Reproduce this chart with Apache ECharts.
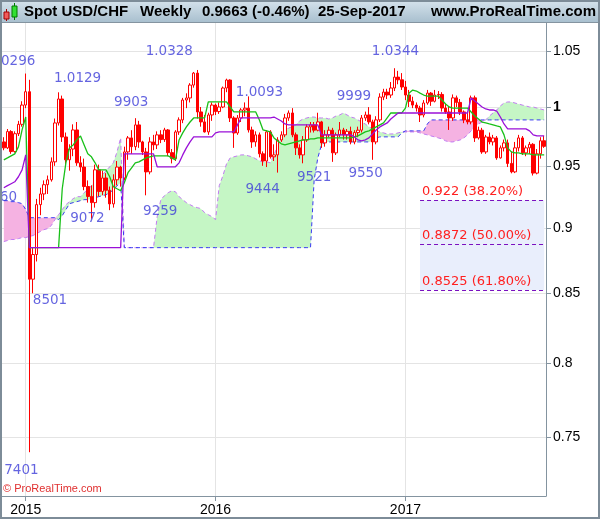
<!DOCTYPE html>
<html><head><meta charset="utf-8">
<script src="https://cdn.jsdelivr.net/npm/echarts@6/dist/echarts.min.js"></script>
<style>html,body{margin:0;padding:0;background:#fff}#c{width:600px;height:519px}</style>
</head><body><div id="c"></div>
<script>
// ---- data ----
const startWeek = '2014-11-24';
const weekCount = 149;
// weekly [open, high, low, close]
const ohlc = [
[0.9700,0.9740,0.9630,0.9650],[0.9650,0.9810,0.9640,0.9788],[0.9788,0.9800,0.9600,0.9619],[0.9619,0.9790,0.9610,0.9770],
[0.9770,0.9880,0.9750,0.9850],[0.9850,1.0050,0.9830,1.0017],[1.0017,1.0296,0.9990,1.0134],[1.0134,1.0240,0.7401,0.8606],
[0.8606,0.8850,0.8501,0.8793],[0.8793,0.9230,0.8740,0.9184],[0.9184,0.9320,0.9100,0.9270],[0.9270,0.9380,0.9220,0.9345],
[0.9345,0.9420,0.9270,0.9385],[0.9385,0.9570,0.9370,0.9533],[0.9533,0.9900,0.9500,0.9862],[0.9862,1.0129,0.9840,1.0070],
[1.0070,1.0100,0.9700,0.9742],[0.9742,0.9780,0.9510,0.9550],[0.9550,0.9680,0.9460,0.9640],[0.9640,0.9850,0.9580,0.9802],
[0.9802,0.9870,0.9500,0.9525],[0.9525,0.9580,0.9450,0.9490],[0.9490,0.9560,0.9300,0.9330],[0.9330,0.9380,0.9200,0.9250],
[0.9250,0.9340,0.9072,0.9200],[0.9200,0.9510,0.9160,0.9467],[0.9467,0.9510,0.9250,0.9290],[0.9290,0.9460,0.9260,0.9400],
[0.9400,0.9440,0.9240,0.9300],[0.9300,0.9330,0.9140,0.9190],[0.9190,0.9430,0.9160,0.9385],[0.9385,0.9540,0.9340,0.9490],
[0.9490,0.9500,0.9330,0.9400],[0.9400,0.9660,0.9380,0.9616],[0.9616,0.9750,0.9550,0.9734],[0.9734,0.9800,0.9600,0.9660],
[0.9660,0.9903,0.9630,0.9845],[0.9845,0.9880,0.9650,0.9700],[0.9700,0.9710,0.9590,0.9616],[0.9616,0.9650,0.9259,0.9450],
[0.9450,0.9740,0.9430,0.9700],[0.9700,0.9760,0.9630,0.9675],[0.9675,0.9790,0.9640,0.9760],[0.9760,0.9800,0.9690,0.9720],
[0.9720,0.9820,0.9700,0.9802],[0.9802,0.9810,0.9580,0.9610],[0.9610,0.9640,0.9520,0.9560],[0.9560,0.9800,0.9540,0.9785],
[0.9785,0.9910,0.9760,0.9888],[0.9888,1.0080,0.9860,1.0061],[1.0061,1.0120,0.9990,1.0079],[1.0079,1.0210,1.0040,1.0193],
[1.0193,1.0310,1.0170,1.0300],[1.0300,1.0328,0.9900,0.9957],[0.9957,1.0000,0.9830,0.9871],[0.9871,0.9930,0.9780,0.9785],
[0.9785,0.9950,0.9760,0.9931],[0.9931,1.0040,0.9880,1.0017],[1.0017,1.0030,0.9930,0.9960],[0.9960,1.0040,0.9940,1.0000],
[1.0000,1.0180,0.9990,1.0167],[1.0167,1.0250,1.0130,1.0238],[1.0238,1.0244,0.9870,0.9905],[0.9905,0.9920,0.9650,0.9776],
[0.9776,0.9930,0.9760,0.9905],[0.9905,0.9990,0.9870,0.9974],[0.9974,1.0040,0.9920,0.9990],[0.9990,1.0093,0.9780,0.9802],
[0.9802,0.9830,0.9650,0.9700],[0.9700,0.9790,0.9660,0.9760],[0.9760,0.9780,0.9570,0.9600],[0.9600,0.9620,0.9500,0.9540],
[0.9540,0.9800,0.9490,0.9785],[0.9785,0.9800,0.9560,0.9575],[0.9575,0.9680,0.9540,0.9591],[0.9591,0.9740,0.9444,0.9717],
[0.9717,0.9790,0.9700,0.9760],[0.9760,0.9940,0.9740,0.9905],[0.9905,0.9970,0.9880,0.9948],[0.9948,0.9990,0.9740,0.9760],
[0.9760,0.9780,0.9590,0.9650],[0.9650,0.9680,0.9560,0.9591],[0.9591,0.9750,0.9521,0.9717],[0.9717,0.9850,0.9700,0.9828],
[0.9828,0.9870,0.9780,0.9845],[0.9845,0.9870,0.9780,0.9800],[0.9800,0.9950,0.9790,0.9871],[0.9871,0.9880,0.9650,0.9692],
[0.9692,0.9800,0.9660,0.9760],[0.9760,0.9830,0.9740,0.9800],[0.9800,0.9820,0.9533,0.9608],[0.9608,0.9780,0.9590,0.9760],
[0.9760,0.9870,0.9740,0.9802],[0.9802,0.9820,0.9720,0.9760],[0.9760,0.9810,0.9720,0.9790],[0.9790,0.9830,0.9680,0.9700],
[0.9700,0.9800,0.9680,0.9780],[0.9780,0.9830,0.9740,0.9800],[0.9800,0.9930,0.9780,0.9905],[0.9905,0.9960,0.9880,0.9931],
[0.9931,0.9999,0.9850,0.9871],[0.9871,0.9890,0.9550,0.9700],[0.9700,0.9920,0.9680,0.9888],[0.9888,1.0120,0.9870,1.0087],
[1.0087,1.0160,1.0060,1.0131],[1.0131,1.0160,1.0070,1.0105],[1.0105,1.0220,1.0080,1.0167],[1.0167,1.0344,1.0140,1.0264],
[1.0264,1.0320,1.0200,1.0240],[1.0240,1.0300,1.0150,1.0176],[1.0176,1.0230,1.0060,1.0105],[1.0105,1.0150,1.0000,1.0050],
[1.0050,1.0090,0.9990,1.0017],[1.0017,1.0040,0.9960,0.9991],[0.9991,1.0010,0.9870,0.9931],[0.9931,1.0060,0.9910,1.0035],
[1.0035,1.0150,1.0020,1.0122],[1.0122,1.0131,1.0010,1.0050],[1.0050,1.0150,1.0040,1.0105],[1.0105,1.0140,1.0070,1.0110],
[1.0110,1.0130,0.9960,0.9991],[0.9991,1.0030,0.9940,0.9957],[0.9957,1.0000,0.9802,0.9905],[0.9905,1.0110,0.9880,1.0080],
[1.0080,1.0100,1.0000,1.0040],[1.0040,1.0070,0.9930,0.9957],[0.9957,0.9970,0.9860,0.9888],[0.9888,0.9960,0.9850,0.9871],
[0.9871,1.0100,0.9850,1.0080],[1.0080,1.0100,0.9700,0.9734],[0.9734,0.9830,0.9720,0.9800],[0.9800,0.9820,0.9600,0.9616],
[0.9616,0.9760,0.9600,0.9742],[0.9742,0.9780,0.9680,0.9700],[0.9700,0.9760,0.9670,0.9734],[0.9734,0.9750,0.9550,0.9566],
[0.9566,0.9670,0.9560,0.9650],[0.9650,0.9720,0.9620,0.9692],[0.9692,0.9720,0.9490,0.9520],[0.9520,0.9620,0.9438,0.9450],
[0.9450,0.9700,0.9440,0.9650],[0.9650,0.9760,0.9620,0.9734],[0.9734,0.9750,0.9590,0.9608],[0.9608,0.9670,0.9580,0.9650],
[0.9650,0.9700,0.9600,0.9680],[0.9680,0.9690,0.9420,0.9440],[0.9440,0.9640,0.9430,0.9600],[0.9600,0.9740,0.9560,0.9710],
[0.9710,0.9750,0.9650,0.9663]
];
// Ichimoku lines
const tenkan = [
0.9550,0.9566,0.9583,0.9600,0.9658,0.9802,0.9913,0.8846,0.8846,0.8846,
0.8846,0.8846,0.8846,0.8846,0.8846,0.8846,0.9312,0.9525,0.9650,0.9675,
0.9717,0.9751,0.9675,0.9600,0.9575,0.9525,0.9467,0.9467,0.9467,0.9410,
0.9329,0.9312,0.9296,0.9361,0.9443,0.9484,0.9525,0.9533,0.9550,0.9566,
0.9575,0.9583,0.9583,0.9583,0.9583,0.9583,0.9566,0.9550,0.9717,0.9777,
0.9828,0.9870,0.9905,0.9905,0.9905,0.9905,1.0044,1.0044,1.0044,1.0044,
1.0044,1.0044,1.0000,0.9957,0.9957,0.9957,0.9957,0.9957,0.9957,0.9957,
0.9888,0.9802,0.9794,0.9785,0.9734,0.9709,0.9684,0.9675,0.9684,0.9692,
0.9700,0.9709,0.9717,0.9717,0.9726,0.9726,0.9734,0.9734,0.9734,0.9734,
0.9734,0.9734,0.9734,0.9734,0.9734,0.9734,0.9743,0.9751,0.9768,0.9785,
0.9794,0.9811,0.9828,0.9845,0.9862,0.9905,0.9948,0.9948,0.9948,0.9948,
0.9991,1.0122,1.0149,1.0140,1.0122,1.0105,1.0096,1.0096,1.0096,1.0096,
1.0061,1.0026,1.0000,0.9991,0.9991,0.9991,0.9991,0.9991,0.9957,0.9922,
0.9896,0.9870,0.9862,0.9853,0.9845,0.9836,0.9828,0.9760,0.9650,0.9616,
0.9608,0.9608,0.9600,0.9600,0.9600,0.9591,0.9591,0.9591,0.9591
];
const kijun = [
0.9320,0.9337,0.9353,0.9369,0.9410,0.9467,0.9591,0.8846,0.8846,0.8846,
0.8846,0.8846,0.8846,0.8846,0.8846,0.8846,0.8846,0.8846,0.8846,0.8846,
0.8846,0.8846,0.8846,0.8846,0.8846,0.8846,0.8846,0.8846,0.8846,0.8846,
0.8846,0.8846,0.8846,0.9600,0.9600,0.9600,0.9600,0.9600,0.9600,0.9600,
0.9600,0.9600,0.9492,0.9492,0.9492,0.9492,0.9492,0.9492,0.9525,0.9591,
0.9650,0.9700,0.9743,0.9743,0.9743,0.9743,0.9743,0.9743,0.9777,0.9785,
0.9785,0.9785,0.9785,0.9785,0.9845,0.9905,0.9905,0.9905,0.9905,0.9905,
0.9905,0.9905,0.9905,0.9905,0.9913,0.9896,0.9879,0.9853,0.9845,0.9845,
0.9845,0.9845,0.9845,0.9845,0.9845,0.9845,0.9845,0.9760,0.9760,0.9760,
0.9760,0.9760,0.9760,0.9760,0.9760,0.9760,0.9743,0.9717,0.9709,0.9717,
0.9734,0.9768,0.9802,0.9828,0.9845,0.9862,0.9896,0.9922,0.9948,0.9948,
0.9948,0.9948,0.9948,0.9948,0.9948,0.9948,0.9948,0.9948,0.9948,0.9948,
0.9948,0.9948,0.9948,0.9948,0.9948,0.9948,0.9948,0.9948,1.0079,1.0052,
1.0026,1.0000,0.9983,0.9974,0.9974,0.9965,0.9913,0.9853,0.9811,0.9811,
0.9811,0.9811,0.9811,0.9811,0.9794,0.9760,0.9751,0.9751,0.9751
];
const spanA = [
0.8893,0.8901,0.8909,0.8909,0.8916,0.8924,0.8924,0.8932,0.8940,0.8955,
0.8971,0.8986,0.8994,0.9018,0.9065,0.9104,0.9144,0.9184,0.9208,0.9232,
0.9248,0.9248,0.9280,0.9304,0.9337,0.9369,0.9402,0.9426,0.9459,0.9492,
0.9525,0.9616,0.9734,0.8846,0.8846,0.8846,0.8846,0.8846,0.8846,0.8846,
0.8846,0.8846,0.9088,0.9224,0.9256,0.9280,0.9296,0.9288,0.9248,0.9224,
0.9200,0.9184,0.9168,0.9160,0.9152,0.9120,0.9104,0.9088,0.9065,0.9337,
0.9418,0.9517,0.9566,0.9575,0.9583,0.9591,0.9591,0.9583,0.9575,0.9558,
0.9542,0.9533,0.9533,0.9525,0.9591,0.9667,0.9734,0.9785,0.9819,0.9828,
0.9845,0.9879,0.9896,0.9905,0.9913,0.9913,0.9905,0.9905,0.9905,0.9896,
0.9905,0.9922,0.9931,0.9948,0.9931,0.9913,0.9905,0.9888,0.9870,0.9853,
0.9828,0.9811,0.9794,0.9785,0.9777,0.9768,0.9768,0.9768,0.9777,0.9785,
0.9785,0.9785,0.9785,0.9785,0.9777,0.9768,0.9760,0.9751,0.9743,0.9734,
0.9726,0.9709,0.9700,0.9700,0.9709,0.9717,0.9734,0.9760,0.9794,0.9828,
0.9853,0.9870,0.9888,0.9922,0.9948,0.9974,1.0009,1.0035,1.0044,1.0044,
1.0035,1.0026,1.0017,1.0009,1.0000,1.0000,0.9991,0.9983,0.9974
];
const spanB = [
0.9216,0.9216,0.9208,0.9208,0.9200,0.9192,0.9144,0.9080,0.9080,0.9080,
0.9080,0.9080,0.9080,0.9080,0.9080,0.9065,0.9096,0.9144,0.9192,0.9200,
0.9208,0.9216,0.9224,0.9224,0.9232,0.9240,0.9248,0.9256,0.9264,0.9280,
0.9304,0.9337,0.9361,0.8846,0.8846,0.8846,0.8846,0.8846,0.8846,0.8846,
0.8846,0.8846,0.8846,0.8846,0.8846,0.8846,0.8846,0.8846,0.8846,0.8846,
0.8846,0.8846,0.8846,0.8846,0.8846,0.8846,0.8846,0.8846,0.8846,0.8846,
0.8846,0.8846,0.8846,0.8846,0.8846,0.8846,0.8846,0.8846,0.8846,0.8846,
0.8846,0.8846,0.8846,0.8846,0.8846,0.8846,0.8846,0.8846,0.8846,0.8846,
0.8846,0.8846,0.8846,0.8846,0.8846,0.9385,0.9566,0.9675,0.9700,0.9700,
0.9700,0.9700,0.9700,0.9700,0.9700,0.9700,0.9700,0.9700,0.9700,0.9700,
0.9700,0.9709,0.9734,0.9743,0.9743,0.9743,0.9743,0.9743,0.9743,0.9777,
0.9794,0.9794,0.9794,0.9794,0.9794,0.9794,0.9853,0.9888,0.9888,0.9888,
0.9888,0.9888,0.9888,0.9888,0.9888,0.9888,0.9888,0.9888,0.9888,0.9888,
0.9888,0.9888,0.9888,0.9888,0.9888,0.9888,0.9888,0.9888,0.9888,0.9888,
0.9888,0.9888,0.9888,0.9888,0.9888,0.9888,0.9888,0.9888,0.9888
];
const yTicks = [0.75, 0.8, 0.85, 0.9, 0.95, 1, 1.05];
// swing high / low annotations: bar index, price, text as printed
const swingIdx   = [6, 15, 36, 53, 67, 100, 107, 0, 24, 39, 75, 82, 101, 8, 7];
const swingPrice = [1.0296, 1.0129, 0.9903, 1.0328, 1.0093, 0.9999, 1.0344, 0.9160, 0.9072, 0.9259, 0.9444, 0.9521, 0.9550, 0.8501, 0.7401];
const swingText  = ['1.0296','1.0129','9903','1.0328','1.0093','9999','1.0344','9160','9072','9259','9444','9521','9550','8501','7401'];
const fibLevels = [0.922, 0.8872, 0.8525];
const fibNames  = ['0.922 (38.20%)', '0.8872 (50.00%)', '0.8525 (61.80%)'];
const fibStartIdx = 114;
const header = {sym: 'Spot USD/CHF', tf: 'Weekly', last: '0.9663 (-0.46%)', date: '25-Sep-2017', site: 'www.ProRealTime.com'};

// ---- layout / style (kept separate from data) ----
const swingOffsets = [[-14,-12],[19,-14],[-4,-16],[-28,-18],[11,-4],[-15,-11],[1,-17],[-4,-10],[-4,0],[14,16],[-15,17],[11,14],[-7,14],[17,7],[-8,18]];

// ---- build ----
const dates = [];
const d0 = new Date(startWeek + 'T00:00:00Z');
for (let k = 0; k < weekCount; k++) dates.push(new Date(d0.getTime() + k * 7 * 86400000).toISOString().slice(0, 10));
const isYearStart = (idx) => idx > 0 && dates[idx].slice(0, 4) !== dates[idx - 1].slice(0, 4);
const L = Math.log;
const candleData = ohlc.map(r => [L(r[0]), L(r[3]), L(r[2]), L(r[1])]);
const lnA = spanA.map(L), lnB = spanB.map(L);
const cloudBase = lnA.map((a, k) => Math.min(a, lnB[k]));
const cloudGreen = lnA.map((a, k) => a > lnB[k] ? a - lnB[k] : 0);
const cloudPink = lnA.map((a, k) => lnB[k] > a ? lnB[k] - a : 0);

const yMax = (107 - 23) / 1147;
const yMin = yMax - 473 / 1147;
const AX = '#8494a0';

const chart = echarts.init(document.getElementById('c'), null, {renderer: 'canvas'});
const lineS = (name, data, color, z, dash, w) => ({
  name, type: 'line', data: data.map(L), showSymbol: false, symbol: 'none', z,
  lineStyle: {color, width: w || 1, type: dash ? [4, 3] : 'solid'}, emphasis: {disabled: true}, silent: true
});

chart.setOption({
  animation: false,
  backgroundColor: '#ffffff',
  grid: {left: 2, right: 54, top: 23, bottom: 23, containLabel: false},
  xAxis: {
    type: 'category', data: dates, boundaryGap: true,
    axisLine: {show: true, onZero: false, lineStyle: {color: AX}},
    axisTick: {show: true, interval: (i) => isYearStart(i), alignWithLabel: true, length: 5, lineStyle: {color: AX}},
    axisLabel: {interval: (i) => isYearStart(i), formatter: v => v.slice(0, 4), color: '#000', fontSize: 14, fontFamily: 'Liberation Sans', margin: 7},
    splitLine: {show: true, interval: (i) => isYearStart(i), alignWithLabel: true, lineStyle: {color: '#e4e4e4', width: 1}}
  },
  yAxis: {
    type: 'value', position: 'right', min: yMin, max: yMax,
    axisLine: {show: true, onZero: false, lineStyle: {color: AX}},
    axisTick: {show: true, length: 5, customValues: yTicks.map(L), lineStyle: {color: AX}},
    axisLabel: {
      customValues: yTicks.map(L), color: '#000', fontSize: 14, fontFamily: 'Liberation Sans', margin: 7,
      formatter: v => { const s = String(parseFloat(Math.exp(v).toFixed(2))); return s === '1' ? '{b|1}' : s; },
      rich: {b: {fontWeight: 'bold', fontSize: 14, fontFamily: 'Liberation Sans', color: '#000'}}
    },
    splitLine: {show: true, lineStyle: {color: '#e4e4e4', width: 1}}
  },
  series: [
    {
      name: 'cloudBase', type: 'line', data: cloudBase, stack: 'cloud', stackStrategy: 'all', showSymbol: false, symbol: 'none',
      lineStyle: {width: 0, opacity: 0}, z: 1, silent: true,
      markArea: {silent: true, itemStyle: {color: '#e9eefc'},
        data: [[{coord: [dates[fibStartIdx], L(fibLevels[0])]}, {coord: [dates[weekCount - 1], L(fibLevels[2])]}]]},
      markLine: {silent: true, symbol: ['none', 'none'],
        lineStyle: {color: '#7a10c0', type: [4, 3], width: 1},
        label: {show: true, position: 'insideStartTop', distance: 2, color: '#ff2020', fontSize: 13, fontFamily: 'DejaVu Sans', formatter: '{b}'},
        data: fibLevels.map((v, k) => [{name: fibNames[k], coord: [dates[fibStartIdx], L(v)]}, {coord: [dates[weekCount - 1], L(v)]}])}
    },
    {name: 'cloudGreen', type: 'line', data: cloudGreen, stack: 'cloud', stackStrategy: 'all', showSymbol: false, symbol: 'none',
      lineStyle: {width: 0, opacity: 0}, areaStyle: {color: '#c5f6c5', opacity: 1}, z: 1, silent: true},
    {name: 'cloudPink', type: 'line', data: cloudPink, stack: 'cloud', stackStrategy: 'all', showSymbol: false, symbol: 'none',
      lineStyle: {width: 0, opacity: 0}, areaStyle: {color: '#f5b2e2', opacity: 1}, z: 1, silent: true},
    lineS('spanA', spanA, '#c27cf2', 2, true, 1),
    lineS('spanB', spanB, '#3a3af2', 2, true, 1),
    {
      name: 'price', type: 'candlestick', data: candleData, barWidth: 3, z: 3, silent: true,
      itemStyle: {color: '#ffffff', color0: '#ff0000', borderColor: '#ff0000', borderColor0: '#ff0000', borderWidth: 1}
    },
    lineS('tenkan', tenkan, '#19c019', 4, false, 1.3),
    lineS('kijun', kijun, '#9a10d8', 5, false, 1.3),
    {
      name: 'swings', type: 'scatter', symbolSize: 0, z: 6, silent: true,
      data: swingIdx.map((idx, k) => ({
        value: [dates[idx], L(swingPrice[k])],
        label: {show: true, position: 'inside', offset: swingOffsets[k], formatter: swingText[k],
          color: '#3d3dd8', fontSize: 13.5, fontFamily: 'DejaVu Sans'}
      }))
    }
  ],
  graphic: [
    {type: 'rect', shape: {x: 0, y: 0, width: 600, height: 22}, z: 100, silent: true,
      style: {fill: new echarts.graphic.LinearGradient(0, 0, 0, 1, [{offset: 0, color: '#d6e3ec'}, {offset: 1, color: '#a9c0cf'}])}},
    {type: 'line', shape: {x1: 0, y1: 22.5, x2: 600, y2: 22.5}, z: 101, silent: true, style: {stroke: AX, lineWidth: 1}},
    {type: 'rect', shape: {x: 1, y: 1, width: 598, height: 517}, z: 102, silent: true, style: {fill: 'none', stroke: '#7d8c98', lineWidth: 2}},
    // candle icon
    {type: 'line', shape: {x1: 6.5, y1: 9, x2: 6.5, y2: 21}, z: 101, style: {stroke: '#a00000', lineWidth: 1}},
    {type: 'rect', shape: {x: 4, y: 12, width: 5, height: 7}, z: 102, style: {fill: '#f25a5a', stroke: '#a00000', lineWidth: 1}},
    {type: 'line', shape: {x1: 14.5, y1: 3, x2: 14.5, y2: 20}, z: 101, style: {stroke: '#007a00', lineWidth: 1}},
    {type: 'rect', shape: {x: 12, y: 6, width: 5, height: 11}, z: 102, style: {fill: '#33e033', stroke: '#007a00', lineWidth: 1}},
    {type: 'text', x: 24, y: 11.5, z: 103, style: {text: header.sym, font: 'bold 15px "Liberation Sans"', fill: '#000', verticalAlign: 'middle'}},
    {type: 'text', x: 140, y: 11.5, z: 103, style: {text: header.tf, font: 'bold 15px "Liberation Sans"', fill: '#000', verticalAlign: 'middle'}},
    {type: 'text', x: 202, y: 11.5, z: 103, style: {text: header.last, font: 'bold 15px "Liberation Sans"', fill: '#000', verticalAlign: 'middle'}},
    {type: 'text', x: 318, y: 11.5, z: 103, style: {text: header.date, font: 'bold 15px "Liberation Sans"', fill: '#000', verticalAlign: 'middle'}},
    {type: 'text', x: 596, y: 11.5, z: 103, style: {text: header.site, font: 'bold 15px "Liberation Sans"', fill: '#000', verticalAlign: 'middle', align: 'right'}},
    {type: 'text', x: 3, y: 489, z: 103, style: {text: '\u00a9 ProRealTime.com', font: '11px "Liberation Sans"', fill: '#e03030', verticalAlign: 'middle'}}
  ]
});
</script>
</body></html>
